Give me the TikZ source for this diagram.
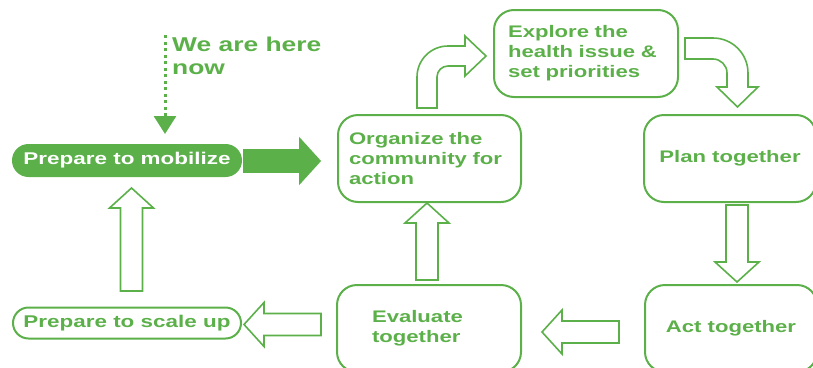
\documentclass[tikz,border=0pt]{standalone}
\usepackage{fontspec}
\usepackage{tikz}
\usetikzlibrary{calc, arrows.meta}
\newfontfamily\greensans{Liberation Sans}[FakeStretch=1.32]
\newcommand{\stagefont}{\greensans\bfseries\fontsize{16.75}{20}\selectfont}
\newcommand{\pillfont}{\greensans\bfseries\fontsize{17}{19}\selectfont}
\newcommand{\herefont}{\greensans\bfseries\fontsize{20}{23}\selectfont}
\definecolor{leaf}{RGB}{92,176,74}
\tikzstyle{stage} = [draw=leaf, line width=2pt, rounded corners=20pt, minimum height=87pt, inner sep=0pt, text=leaf, font=\stagefont]
\tikzstyle{pill} = [draw=leaf, line width=2pt, rounded corners=15.5pt, minimum width=228pt, minimum height=31pt, inner sep=0pt, font=\pillfont]
\tikzstyle{bent} = [draw=leaf, line width=1.6pt, line join=miter]
\tikzstyle{blockarrow} = [bent, to path={
    ($(\tikztostart)!11pt!90:(\tikztotarget)$)
    -- ($($(\tikztotarget)!20pt!(\tikztostart)$)!11pt!-90:(\tikztostart)$)
    -- ($($(\tikztotarget)!20pt!(\tikztostart)$)!22pt!-90:(\tikztostart)$)
    -- (\tikztotarget)
    -- ($($(\tikztotarget)!20pt!(\tikztostart)$)!22pt!90:(\tikztostart)$)
    -- ($($(\tikztotarget)!20pt!(\tikztostart)$)!11pt!90:(\tikztostart)$)
    -- ($(\tikztostart)!11pt!-90:(\tikztotarget)$)
    -- cycle}]

\begin{document}
\begin{tikzpicture}[x=1pt, y=-1pt]
  \useasboundingbox (0,0) rectangle (813,367);
  \clip (0,0) rectangle (813,367);

  % Left column
  \node[pill, fill=leaf, text=white] (mobilize) at (127,160.5) {Prepare to mobilize};
  \node[pill, text=leaf] (scaleup) at (127,323) {Prepare to scale up};
  \node[text=leaf, font=\herefont, align=left, anchor=north west, inner sep=0pt] (here) at (172,37) {We are here\\now};

  % Cycle boxes
  \node[stage, minimum width=183pt, text width=161pt, align=left] (organize) at (429.5,158.5) {Organize the\\community for\\action};
  \node[stage, minimum width=184pt, text width=156pt, align=left] (explore) at (586,53.5) {Explore the\\health issue \&\\set priorities};
  \node[stage, minimum width=172pt] (plan) at (730,158.5) {Plan together};
  \node[stage, minimum width=172pt] (act) at (731,328.5) {Act together};
  \node[stage, minimum width=184pt, text width=114pt, align=left] (evaluate) at (429,328.5) {Evaluate\\together};

  % We are here
  \coordinate (herestart) at (165,35);
  \draw[leaf, line width=3pt, dash pattern=on 3pt off 3.5pt, -{Triangle[width=22pt,length=18pt]}, shorten >=10pt]
    (herestart) -- (herestart |- mobilize.north);

  % Block arrow ends
  \coordinate (mobS) at (244,161);   \coordinate (mobE) at (320,161);
  \coordinate (scaS) at (131.5,291); \coordinate (scaE) at (131.5,188);
  \coordinate (evoS) at (427,280);   \coordinate (evoE) at (427,203);
  \coordinate (plaS) at (737,205);   \coordinate (plaE) at (737,282);
  \coordinate (actS) at (619,332);   \coordinate (actE) at (542,332);
  \coordinate (evsS) at (321,324.5); \coordinate (evsE) at (244,324.5);

  \draw[blockarrow, fill=leaf] (mobS) to (mobE);
  \foreach \a in {sca, evo, pla, act, evs} {
    \draw[blockarrow] (\a S) to (\a E);
  }

  % Bent arrows
  \draw[bent] (417,108) -- (417,77) arc[start angle=180, end angle=270, radius=31]
    -- (465,46) -- (465,36) -- (486,56) -- (465,76) -- (465,66) -- (448,66)
    arc[start angle=270, end angle=180, radius=11] -- (437,108) -- cycle;
  \draw[bent] (685,38) -- (713,38) arc[start angle=270, end angle=360, radius=35]
    -- (748,87) -- (758,87) -- (737.5,107) -- (717,87) -- (727,87) -- (727,73)
    arc[start angle=360, end angle=270, radius=14] -- (685,59) -- cycle;
\end{tikzpicture}
\end{document}
